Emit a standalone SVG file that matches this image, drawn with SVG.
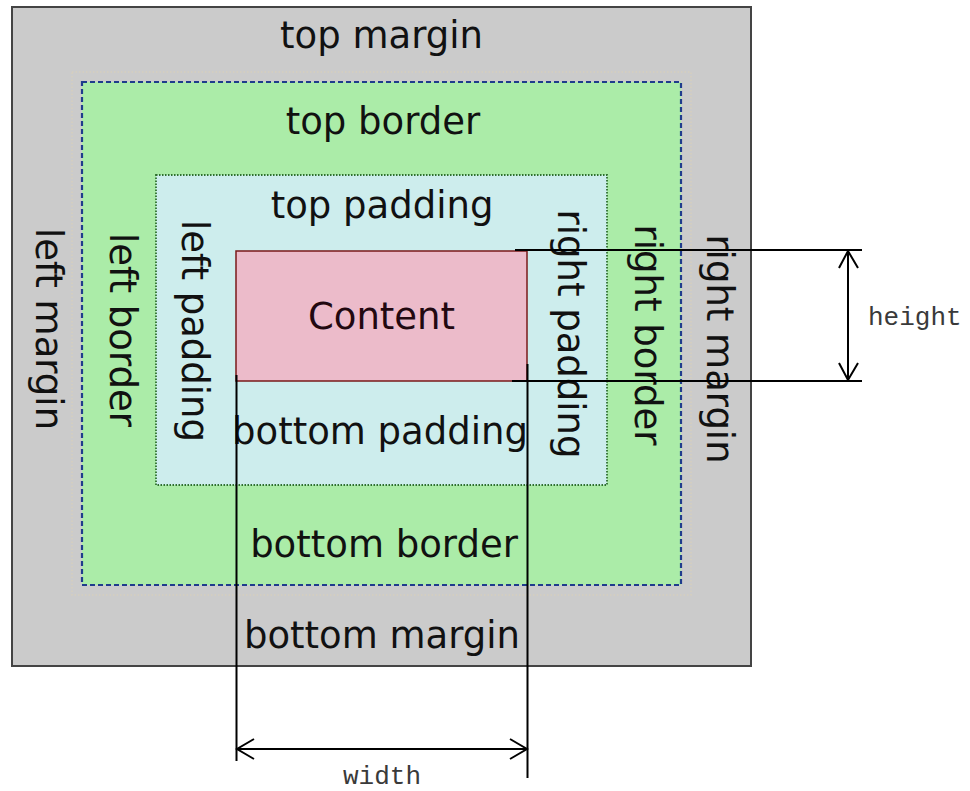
<svg xmlns="http://www.w3.org/2000/svg" width="970" height="791" viewBox="0 0 970 791">
<style>
.lbl{font-family:"DejaVu Sans","Liberation Sans",sans-serif;font-size:37px;fill:#111;text-anchor:middle}
.mono{font-family:"Liberation Mono","Courier New",monospace;font-size:26px;fill:#3a3a3a}
.dim{stroke:#000;stroke-width:2;fill:none}
</style>
<rect width="970" height="791" fill="#fff"/>
<g id="margin">
<rect x="12" y="7" width="739" height="659" fill="#cbcbcb" stroke="#444" stroke-width="2"/>
<rect x="72" y="72" width="619" height="523" fill="none" stroke="#d6cfbf" stroke-width="1.5" stroke-dasharray="1.5,2"/>
<text class="lbl" x="381.5" y="48">top margin</text>
<text class="lbl" x="382" y="648">bottom margin</text>
<text class="lbl" transform="translate(36,329) rotate(90)">left margin</text>
<text class="lbl" transform="translate(707,349) rotate(90)">right margin</text>
</g>
<g id="border">
<rect x="82" y="82" width="599" height="503" fill="#abeca8" stroke="#1f3c8c" stroke-width="2.2" stroke-dasharray="5,3"/>
<text class="lbl" x="383" y="134">top border</text>
<text class="lbl" x="384" y="557">bottom border</text>
<text class="lbl" transform="translate(110,330) rotate(90)">left border</text>
<text class="lbl" transform="translate(635,335) rotate(90)">right border</text>
</g>
<g id="padding">
<rect x="156" y="175" width="451" height="310" fill="#cdeded" stroke="#2f6f2f" stroke-width="1.8" stroke-dasharray="1.5,1.5"/>
<text class="lbl" x="382" y="218">top padding</text>
<text class="lbl" x="380" y="444">bottom padding</text>
<text class="lbl" transform="translate(182,331) rotate(90)">left padding</text>
<text class="lbl" transform="translate(558,334) rotate(90)">right padding</text>
</g>
<g id="content">
<rect x="236" y="251" width="291" height="130" fill="#ecbbca" stroke="#7a1a1a" stroke-width="1.5"/>
<text class="lbl" x="381.5" y="329" style="fill:#220810">Content</text>
</g>
<g id="connectors">
<line class="dim" x1="515" y1="250" x2="862" y2="250"/>
<line class="dim" x1="512" y1="381" x2="862" y2="381"/>
<line class="dim" x1="848" y1="251" x2="848" y2="381"/>
<polyline class="dim" points="839,268 848,251 858,268"/>
<polyline class="dim" points="839,363 848,380 858,363"/>
<line class="dim" x1="236.5" y1="375" x2="236.5" y2="761"/>
<line class="dim" x1="527.5" y1="364" x2="527.5" y2="778"/>
<line class="dim" x1="237" y1="749" x2="527" y2="749"/>
<polyline class="dim" points="254,739 237,749 254,759"/>
<polyline class="dim" points="510,739 527,749 510,759"/>
</g>
<g id="labels">
<text class="mono" x="868" y="325">height</text>
<text class="mono" x="343" y="784">width</text>
</g>
</svg>
